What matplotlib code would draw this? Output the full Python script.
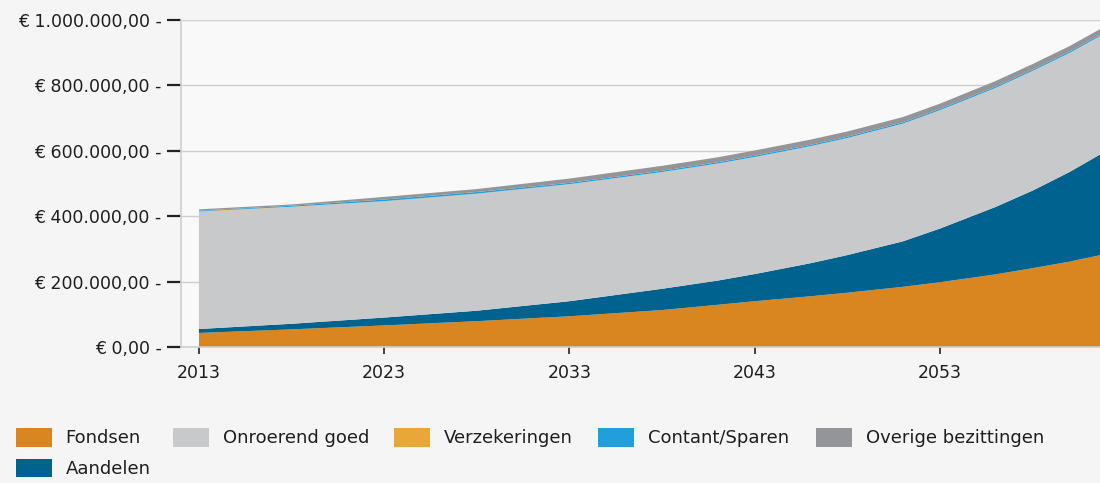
import matplotlib
matplotlib.use("Agg")
import matplotlib.pyplot as plt
from matplotlib.patches import Patch

years = [2013, 2018, 2023, 2028, 2033, 2038, 2041, 2043, 2046, 2048,
         2051, 2053, 2056, 2058, 2060, 2062]
fondsen = [43, 54, 66, 79, 94, 113, 129, 140, 155, 166,
           184, 198, 222, 241, 261, 285]
aandelen = [12, 17, 24, 32, 46, 65, 74, 83, 101, 115,
            139, 164, 206, 237, 274, 315]
onroerend = [358, 357, 356, 358, 358, 357, 358, 358, 358, 358,
             360, 362, 364, 366, 364, 362]
verzekeringen = [2, 1, 0, 0, 0, 0, 0, 0, 0, 0, 0, 0, 0, 0, 0, 0]
contant = [2, 3, 5, 5, 4, 4, 4, 4, 4, 4, 4, 4, 4, 4, 4, 4]
overige = [4, 4, 8, 9, 13, 15, 15, 16, 16, 16, 16, 16, 17, 17, 17, 17]

labels = ["Fondsen", "Aandelen", "Onroerend goed", "Verzekeringen",
          "Contant/Sparen", "Overige bezittingen"]
colors = ["#D98620", "#00628F", "#C8C9CB", "#E8A838", "#219FDB", "#939598"]

yticks = [0, 200000, 400000, 600000, 800000, 1000000]
ytick_labels = ["€ 0,00 -", "€ 200.000,00 -", "€ 400.000,00 -",
                "€ 600.000,00 -", "€ 800.000,00 -", "€ 1.000.000,00 -"]
xticks = [2013, 2023, 2033, 2043, 2053]

plt.rcParams['font.family'] = ['DejaVu Sans']

fig = plt.figure(figsize=(11, 4.83), dpi=100)
fig.patch.set_facecolor("#F5F5F5")
ax = fig.add_axes([181/1100, 1 - 347/483, 1 - 181/1100, (347 - 20)/483])
ax.set_facecolor("#F9F9F9")

series = [fondsen, aandelen, onroerend, verzekeringen, contant, overige]
vals = [[v * 1000 for v in s] for s in series]
ax.stackplot(years, *vals, colors=colors, linewidth=0, zorder=2)

ax.set_xlim(2012.03, 2061.65)
ax.set_ylim(0, 1000000)
ax.set_yticks(yticks)
ax.set_yticklabels(ytick_labels, fontsize=12.5, color="#1E1E1E")
ax.set_xticks(xticks)
ax.set_xticklabels([str(x) for x in xticks], fontsize=12.5, color="#1E1E1E")
ax.grid(axis="y", color="#CFCFCF", linewidth=1, zorder=1)
ax.set_axisbelow(True)
for s in ["top", "right"]:
    ax.spines[s].set_visible(False)
for s in ["left", "bottom"]:
    ax.spines[s].set_color("#CFCFCF")
    ax.spines[s].set_linewidth(1.2)
ax.tick_params(axis="y", length=10, width=1.6, color="#222222", pad=4)
ax.tick_params(axis="x", length=5, width=1.2, color="#222222", pad=7)

# legend: one block per column, placed at the reference's column positions
columns = [[0, 1], [2], [3], [4], [5]]
col_x = [16, 173, 394, 598, 816]
for idx, x0 in zip(columns, col_x):
    hs = [Patch(facecolor=colors[i], edgecolor="none") for i in idx]
    fig.legend(hs, [labels[i] for i in idx], loc="upper left",
               bbox_to_anchor=(x0 / 1100, 1 - 428 / 483),
               frameon=False, fontsize=13, handlelength=2.0,
               handleheight=1.22, handletextpad=0.75,
               labelspacing=0.62, borderpad=0, borderaxespad=0,
               labelcolor="#1E1E1E")

fig.savefig("out.png", dpi=100, facecolor=fig.get_facecolor())
